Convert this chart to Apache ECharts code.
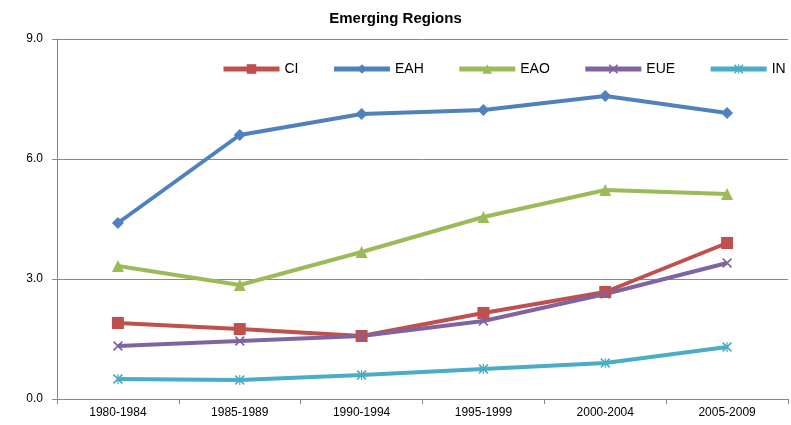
<!DOCTYPE html>
<html>
<head>
<meta charset="utf-8">
<script src="https://cdn.jsdelivr.net/npm/echarts@6/dist/echarts.min.js"></script>
<style>
  html, body { margin: 0; padding: 0; background: #fff; }
  #chart { width: 791px; height: 425px; }
</style>
</head>
<body>
<div id="chart"></div>
<script>
// periods on the x axis
const periods = ['1980-1984', '1985-1989', '1990-1994', '1995-1999', '2000-2004', '2005-2009'];

// values
const ciVals  = [1.9, 1.75, 1.575, 2.15, 2.675, 3.9];
const eahVals = [4.4, 6.6, 7.125, 7.225, 7.575, 7.15];
const eaoVals = [3.325, 2.85, 3.675, 4.55, 5.225, 5.125];
const eueVals = [1.325, 1.45, 1.575, 1.95, 2.625, 3.4];
const inVals  = [0.5, 0.475, 0.6, 0.75, 0.9, 1.3];

const yTicks = [0, 3, 6, 9];

// marker shapes for the cross-style symbols
const xMark = 'path://M0,1.2 L1.2,0 L5,3.8 L8.8,0 L10,1.2 L6.2,5 L10,8.8 L8.8,10 L5,6.2 L1.2,10 L0,8.8 L3.8,5 Z';
const starMark = 'path://M0,1.2 L1.2,0 L5,3.8 L8.8,0 L10,1.2 L6.2,5 L10,8.8 L8.8,10 L5,6.2 L1.2,10 L0,8.8 L3.8,5 Z M4.4,0 L5.6,0 L5.6,10 L4.4,10 Z';

const font = '"Liberation Sans", "DejaVu Sans", sans-serif';

function mkSeries(name, data, color, symbol, size) {
  return {
    name: name,
    type: 'line',
    data: data,
    symbol: symbol,
    symbolSize: size,
    lineStyle: { color: color, width: 4 },
    itemStyle: { color: color },
    animation: false
  };
}

const chart = echarts.init(document.getElementById('chart'));
chart.setOption({
  backgroundColor: '#fff',
  title: {
    text: 'Emerging Regions',
    left: 'center',
    top: 6,
    textStyle: { fontFamily: font, fontSize: 15, fontWeight: 'bold', color: '#000' }
  },
  legend: {
    left: 216,
    top: 57,
    itemWidth: 56,
    itemHeight: 12,
    itemGap: 33,
    lineStyle: { width: 5 },
    textStyle: { fontFamily: font, fontSize: 14, color: '#000' },
    data: ['CI', 'EAH', 'EAO', 'EUE', 'IN']
  },
  grid: { left: 57, right: 3, top: 39, bottom: 26 },
  xAxis: {
    type: 'category',
    data: periods,
    boundaryGap: true,
    axisLine: { lineStyle: { color: '#888', width: 1 } },
    axisTick: { show: true, length: 5, lineStyle: { color: '#888' } },
    axisLabel: { fontFamily: font, fontSize: 12, color: '#000', margin: 8 }
  },
  yAxis: {
    type: 'value',
    min: yTicks[0],
    max: yTicks[yTicks.length - 1],
    interval: 3,
    axisLine: { show: true, lineStyle: { color: '#888', width: 1 } },
    axisTick: { show: true, length: 5, lineStyle: { color: '#888' } },
    splitLine: { lineStyle: { color: '#888', width: 1 } },
    axisLabel: {
      fontFamily: font, fontSize: 12, color: '#000', margin: 14,
      formatter: v => v.toFixed(1)
    }
  },
  series: [
    mkSeries('CI', ciVals, '#C0504D', 'rect', 12),
    mkSeries('EAH', eahVals, '#4F81BD', 'diamond', 12),
    mkSeries('EAO', eaoVals, '#9BBB59', 'triangle', 12),
    mkSeries('EUE', eueVals, '#8064A2', xMark, 10),
    mkSeries('IN', inVals, '#4BACC6', starMark, 10)
  ]
});
</script>
</body>
</html>
